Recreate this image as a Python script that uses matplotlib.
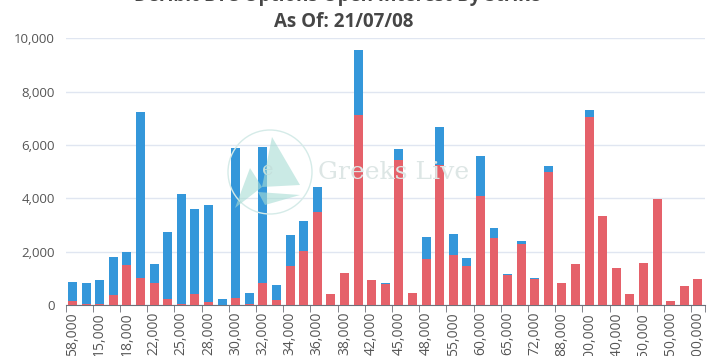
import matplotlib
matplotlib.use("Agg")
import matplotlib.pyplot as plt
import numpy as np
from matplotlib.patches import Circle, Polygon

plt.rcParams['font.family'] = ['Open Sans', 'DejaVu Sans']

strikes = ["58,000", "12,000", "15,000", "16,000", "18,000", "20,000", "22,000", "24,000",
           "25,000", "26,000", "28,000", "29,000", "30,000", "31,000", "32,000", "33,000",
           "34,000", "35,000", "36,000", "37,000", "38,000", "40,000", "42,000", "44,000",
           "45,000", "46,000", "48,000", "50,000", "55,000", "58,000", "60,000", "64,000",
           "65,000", "70,000", "72,000", "80,000", "88,000", "90,000", "100,000", "120,000",
           "140,000", "145,000", "150,000", "200,000", "250,000", "280,000", "300,000"]
puts = [150, 50, 20, 375, 1500, 1025, 812, 212, 25, 412, 112, 0, 275, 25, 812, 187,
        1462, 2037, 3500, 425, 1212, 7125, 950, 790, 5437, 450, 1712, 5237, 1862, 1450,
        4075, 2500, 1112, 2287, 975, 4975, 812, 1550, 7062, 3337, 1400, 425, 1587, 3975,
        150, 725, 962]
calls = [700, 760, 917, 1425, 490, 6200, 713, 2513, 4150, 3200, 3650, 225, 5625, 425,
         5113, 575, 1163, 1100, 937, 0, 0, 2437, 0, 20, 413, 0, 838, 1438, 800, 325,
         1500, 387, 50, 113, 50, 250, 0, 0, 263, 0, 0, 0, 0, 0, 0, 0, 0]

RED = "#e5616a"
BLUE = "#3497da"
GRAY = "#6e7079"

fig = plt.figure(figsize=(7.09, 3.56), dpi=100)
ax = fig.add_axes([0.0927, 0.1433, 0.9013, 0.7491])

x = np.arange(len(strikes))
ax.bar(x, puts, width=0.66, color=RED, zorder=3)
ax.bar(x, calls, width=0.66, bottom=puts, color=BLUE, zorder=3)

ax.set_xlim(-0.5, len(strikes) - 0.5)
ax.set_ylim(0, 10000)
ax.set_yticks(range(0, 10001, 2000))
ax.set_yticklabels([f"{v:,}" for v in range(0, 10001, 2000)], fontsize=9.5, color="#555555")
ax.yaxis.grid(True, color="#e0e6f1", lw=1, zorder=0)
ax.tick_params(axis='y', length=0, pad=8)

# labels on every other category, ticks on the boundaries
ax.set_xticks(x[::2])
ax.set_xticklabels(strikes[::2], rotation=90, fontsize=10, color="#555555", va='top')
ax.tick_params(axis='x', length=0, pad=5)
bounds = list(np.arange(-0.5, len(strikes) - 1, 2)) + [len(strikes) - 0.5]
ax.set_xticks(bounds, minor=True)
ax.tick_params(axis='x', which='minor', length=5, color=GRAY)

for s in ['top', 'right', 'left']:
    ax.spines[s].set_visible(False)
ax.spines['bottom'].set_color(GRAY)

# title (first line runs off the top of the canvas)
fig.text(0.476, 1 - 1.5 / 356, "Deribit BTC Options Open Interest By Strike", ha='center',
         va='baseline', fontsize=13.5, fontweight='bold', color="#464646")
fig.text(0.485, 1 - 27 / 356, "As Of: 21/07/08", ha='center', va='baseline',
         fontsize=13.5, fontweight='bold', color="#464646")

# watermark
circ = Circle((270, 356 - 172), 42, transform=None, fill=False, ec="#d5ebe8", lw=1, zorder=10)
fig.patches.append(circ)
tri_pts = [[(272, 137), (300, 185), (262, 187)],
           [(262, 187), (235, 208), (250, 168)],
           [(258, 192), (300, 195), (265, 205)]]
for pts in tri_pts:
    poly = Polygon([(px, 356 - py) for px, py in pts], closed=True, transform=None,
                   fc="#a8dcd4", ec="none", alpha=0.6, zorder=10)
    fig.patches.append(poly)
fig.text(268 / 709, 1 - 170 / 356, "e", ha='center', va='center', fontsize=14,
         color="#c4e0dc", family='DejaVu Serif', zorder=11)
fig.text(318 / 709, 1 - 172 / 356, "Greeks Live", ha='left', va='center', fontsize=18,
         color="#dde6e5", family='DejaVu Serif', zorder=11)

fig.savefig("out.png", dpi=100)
